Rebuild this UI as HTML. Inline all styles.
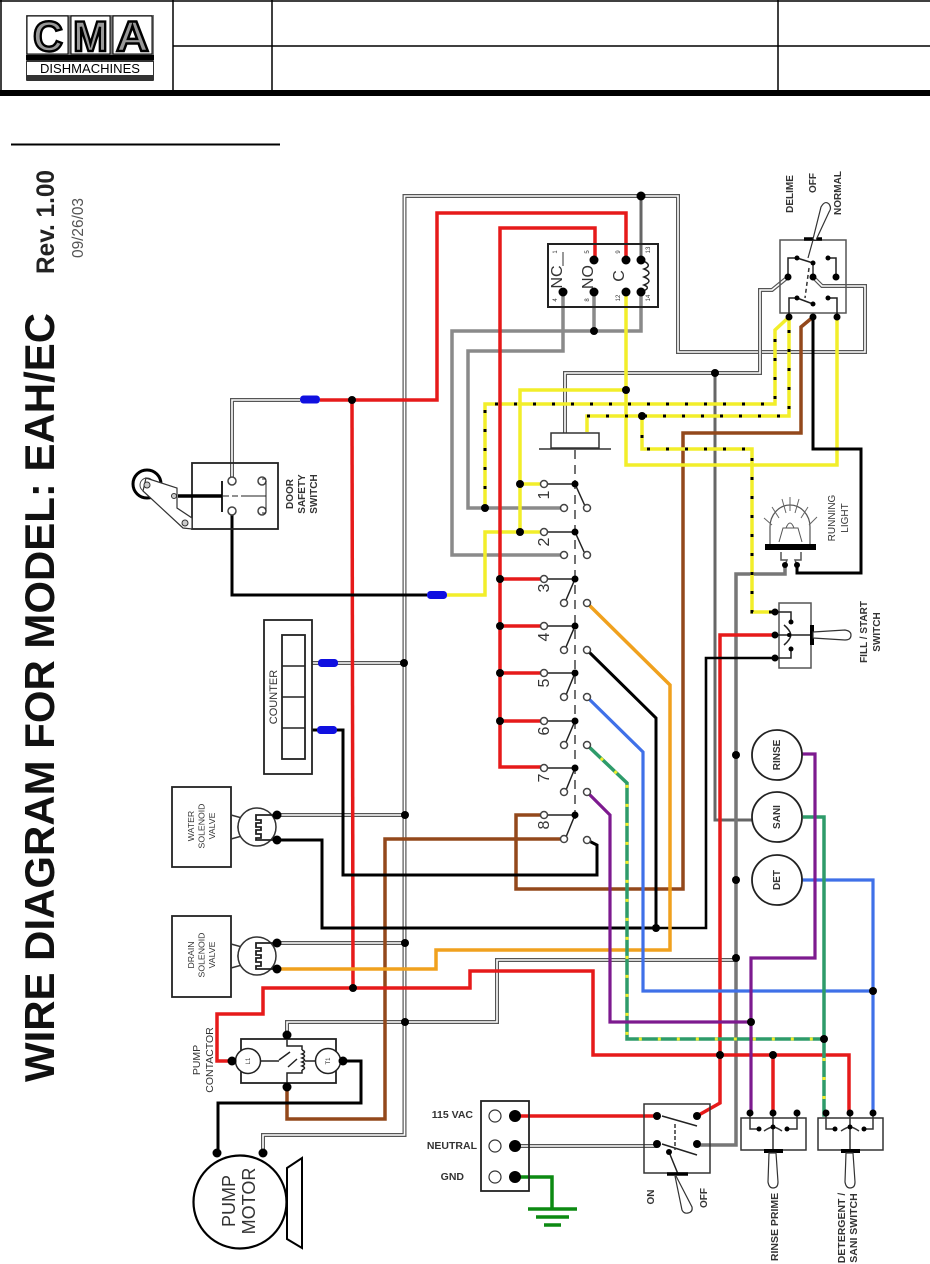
<!DOCTYPE html>
<html><head><meta charset="utf-8"><style>
html,body{margin:0;padding:0;background:#fff}
svg{display:block;filter:blur(0.35px)}
text{font-family:"Liberation Sans",sans-serif;fill:#333}
.w{fill:none;stroke-linejoin:miter}
.r{stroke:#e61a1a;stroke-width:3.5}
.k{stroke:#000;stroke-width:3}
.y{stroke:#f2ee2a;stroke-width:3.5}
.d{stroke:#000;stroke-width:3;stroke-dasharray:3 16}
.b{stroke:#93481b;stroke-width:3.5}
.g{stroke:#8a8a8a;stroke-width:3.5}
.o{stroke:#f0a11e;stroke-width:3.5}
.u{stroke:#3f70e8;stroke-width:3.2}
.p{stroke:#7d1a8f;stroke-width:3.2}
.n{stroke:#2e9b6a;stroke-width:3.5}
.ny{stroke:#f2ee2a;stroke-width:3;stroke-dasharray:3 16}
.a{stroke:#555;stroke-width:4}
.i{stroke:#fff;stroke-width:1.6}
.s{fill:none;stroke:#222;stroke-width:1.5}
.m{fill:#fff;stroke:#444;stroke-width:1.5}
</style></head><body>
<svg width="930" height="1264" viewBox="0 0 930 1264" xmlns="http://www.w3.org/2000/svg">
<rect width="930" height="1264" fill="#fff"/>
<!-- header -->
<g stroke="#000" fill="none">
<path d="M0 1H930M173 46H930M1 0V92M173 0V92M272 0V92M778 0V92" stroke-width="1.5"/>
<path d="M0 93H930" stroke-width="6"/>
<path d="M11 144.500H280" stroke-width="2"/>
</g>
<!-- logo -->
<g>
<rect x="26" y="15" width="128" height="45" fill="#777"/>
<rect x="27" y="16" width="41" height="38" fill="#fff" stroke="#000"/>
<rect x="71" y="16" width="39" height="38" fill="#fff" stroke="#000"/>
<rect x="113" y="16" width="39" height="38" fill="#fff" stroke="#000"/>
<g font-weight="bold" style="stroke:#000;stroke-width:2.400">
<text x="33" y="51" font-size="43" textLength="30" lengthAdjust="spacingAndGlyphs" style="fill:#999">C</text>
<text x="73" y="51" font-size="43" textLength="35" lengthAdjust="spacingAndGlyphs" style="fill:#999">M</text>
<text x="116" y="51" font-size="43" textLength="33" lengthAdjust="spacingAndGlyphs" style="fill:#999">A</text>
</g>
<rect x="26" y="55" width="128" height="5" fill="#000"/>
<rect x="26" y="60" width="128" height="21" fill="#333" rx="1"/>
<rect x="27" y="62" width="126" height="13" fill="#fff"/>
<text x="40" y="73" font-size="13" textLength="100" lengthAdjust="spacingAndGlyphs" style="fill:#000">DISHMACHINES</text>
</g>
<!-- title -->
<text transform="translate(54,1082) rotate(-90)" font-size="42" font-weight="bold" textLength="769" lengthAdjust="spacingAndGlyphs" style="fill:#111">WIRE DIAGRAM FOR MODEL: EAH/EC</text>
<text transform="translate(54,274) rotate(-90)" font-size="25" font-weight="bold" textLength="104" lengthAdjust="spacingAndGlyphs" style="fill:#222">Rev. 1.00</text>
<text transform="translate(83,258) rotate(-90)" font-size="16" textLength="60" lengthAdjust="spacingAndGlyphs" style="fill:#555">09/26/03</text>

<!-- neutral double wires -->
<path class="w a" id="n1" d="M263 1150V1135H404.500V196H678V352H865V286H822L813 277"/>
<path class="w i" d="M263 1150V1135H404.500V196H678V352H865V286H822L813 277"/>
<path class="w a" d="M565 433V373H760V290H772L788 277"/>
<path class="w i" d="M565 433V373H760V290H772L788 277"/>
<path class="w a" d="M287 1035V1022H497V960H736"/>
<path class="w i" d="M287 1035V1022H497V960H736"/>
<path class="w a" d="M277 815H404"/><path class="w i" d="M277 815H404"/>
<path class="w a" d="M277 943H404"/><path class="w i" d="M277 943H404"/>
<path class="w a" d="M312 663H404"/><path class="w i" d="M312 663H404"/>
<path class="w a" d="M232 480V400H300"/><path class="w i" d="M232 480V400H300"/>
<path class="w a" d="M515 1146H657"/><path class="w i" d="M515 1146H657"/>
<path class="w" stroke="#666" stroke-width="3" d="M715 373V820H752M641 196V260"/>
<path class="w" stroke="#777" stroke-width="3.500" d="M785 565V574H736V1145H697"/>
<!-- gray -->
<path class="w g" d="M563 292V351H468V508H563"/>
<path class="w g" d="M641 292V331H452V555H563M594 292V331"/>
<!-- brown -->
<path class="w b" d="M813 317L801 327V433H683V889H516V815H543"/>
<path class="w b" d="M563 839H385V1119H287V1087"/>
<!-- yellow -->
<path class="w y" d="M626 292V465H837V317"/>
<path class="w y" d="M626 390H520V532H485V595H447"/>
<path class="w y" d="M520 484H543M520 532H543"/>
<path class="w y" id="yd1" d="M485 508V404H775V330L789 317"/>
<path class="w y" d="M587 432V416H789V317"/>
<path class="w y" d="M642 416V449H752V612H775"/>
<path class="w d" d="M485 508V404H775V330"/>
<path class="w d" d="M587 416H789V317"/>
<path class="w d" d="M642 416V449H752V612H775"/>
<!-- red -->
<path class="w r" d="M320 400H437V213H626V260"/>
<path class="w r" d="M595 260V228H500V767H543M500 579H543M500 626H543M500 673H543M500 721H543"/>
<path class="w r" d="M352 400L353 988"/>
<path class="w r" d="M232 1061H217V1014H263V988H470V971H593V1055H849V1113"/>
<path class="w r" d="M773 1055V1113"/>
<path class="w r" d="M515 1116H657"/>
<path class="w r" d="M697 1116L720 1103V635H775"/>
<!-- black -->
<path class="w k" d="M813 317V449H861V573H797V565"/>
<path class="w k" d="M232 511V595H427"/>
<path class="w k" d="M312 730H343V875H597V845L587 840"/>
<path class="w k" d="M277 840H322V928H656V718L587 650"/>
<path class="w k" style="stroke-width:2.6" d="M775 658H706V928H656"/>
<path class="w k" d="M343 1061H361V1103H218V1150"/>
<!-- others -->
<path class="w o" d="M587 603L670 685V950H436V969H277"/>
<path class="w u" d="M587 697L643 752V991H873"/>
<path class="w u" d="M802 880H873V1113"/>
<path class="w n" d="M587 745L627 783V1039H824"/>
<path class="w n" d="M803 817H824V1115L826 1115"/>
<path class="w ny" d="M587 745L627 783V1039H824M824 1039V1115"/>
<path class="w p" d="M587 792L610 815V1022H751"/>
<path class="w p" d="M802 754H815V958H751V1113"/>
<path class="w" stroke="#0c8a12" stroke-width="3.500" d="M515 1177H552V1209"/>
<path stroke="#0c8a12" stroke-width="3.500" d="M528 1209H577M536 1217H569M544 1225H561"/>
<!-- blue connectors -->
<g fill="#1010e0">
<rect x="300" y="395.500" width="20" height="8" rx="3.500"/>
<rect x="427" y="591" width="20" height="8" rx="3.500"/>
<rect x="318" y="659" width="20" height="8" rx="3.500"/>
<rect x="317" y="726" width="20" height="8" rx="3.500"/>
</g>

<!-- relay -->
<rect x="548" y="244" width="110" height="63" fill="none" stroke="#222" stroke-width="2"/>
<text transform="translate(562,277) rotate(-90)" font-size="16" text-anchor="middle">NC</text>
<text transform="translate(593,277) rotate(-90)" font-size="16" text-anchor="middle">NO</text>
<text transform="translate(624,276) rotate(-90)" font-size="16" text-anchor="middle">C</text>
<path d="M563 266V252" stroke="#333" fill="none"/>
<g font-size="6" text-anchor="middle">
<text transform="translate(557,252) rotate(-90)">1</text>
<text transform="translate(589,252) rotate(-90)">5</text>
<text transform="translate(620,252) rotate(-90)">9</text>
<text transform="translate(650,250) rotate(-90)">13</text>
<text transform="translate(557,300) rotate(-90)">4</text>
<text transform="translate(589,300) rotate(-90)">8</text>
<text transform="translate(620,298) rotate(-90)">12</text>
<text transform="translate(650,298) rotate(-90)">14</text>
</g>
<path class="s" d="M641 260Q654 265 644 269Q654 273 644 277Q654 281 644 285Q652 288 641 292"/>

<!-- pushbutton + contacts -->
<rect x="551" y="433" width="48" height="15" fill="#fff" stroke="#333" stroke-width="1.500"/>
<path d="M539 449H611" stroke="#333" stroke-width="1.500"/>
<path d="M575 450V820" stroke="#444" stroke-width="1.500" stroke-dasharray="9 6"/>
<g class="s">
<path class="s" d="M544 484H575L585 506M544 532H575L585 554M544 579H575L566 600M544 626H575L566 647M544 673H575L566 695M544 721H575L566 742M544 768H575L566 790M544 815H575L566 837"/>
</g>
<g class="m">
<circle cx="544" cy="484" r="3.500"/><circle cx="544" cy="532" r="3.500"/><circle cx="544" cy="579" r="3.500"/><circle cx="544" cy="626" r="3.500"/><circle cx="544" cy="673" r="3.500"/><circle cx="544" cy="721" r="3.500"/><circle cx="544" cy="768" r="3.500"/><circle cx="544" cy="815" r="3.500"/>
<circle cx="564" cy="508" r="3.500"/><circle cx="587" cy="508" r="3.500"/><circle cx="564" cy="555" r="3.500"/><circle cx="587" cy="555" r="3.500"/>
<circle cx="564" cy="603" r="3.500"/><circle cx="587" cy="603" r="3.500"/><circle cx="564" cy="650" r="3.500"/><circle cx="587" cy="650" r="3.500"/>
<circle cx="564" cy="697" r="3.500"/><circle cx="587" cy="697" r="3.500"/><circle cx="564" cy="745" r="3.500"/><circle cx="587" cy="745" r="3.500"/>
<circle cx="564" cy="792" r="3.500"/><circle cx="587" cy="792" r="3.500"/><circle cx="564" cy="839" r="3.500"/><circle cx="587" cy="840" r="3.500"/>
</g>
<g font-size="16" text-anchor="middle">
<text transform="translate(549,495) rotate(-90)">1</text>
<text transform="translate(549,542) rotate(-90)">2</text>
<text transform="translate(549,588) rotate(-90)">3</text>
<text transform="translate(549,637) rotate(-90)">4</text>
<text transform="translate(549,683) rotate(-90)">5</text>
<text transform="translate(549,731) rotate(-90)">6</text>
<text transform="translate(549,778) rotate(-90)">7</text>
<text transform="translate(549,825) rotate(-90)">8</text>
</g>

<!-- delime switch -->
<rect x="780" y="240" width="66" height="73" fill="none" stroke="#555" stroke-width="1.500"/>
<path d="M804 239H822" stroke="#000" stroke-width="3.500"/>
<path d="M808 258L813 240M813 239L821 207Q825 200 829 204Q832 208 829 212L816 240" fill="#fff" stroke="#333" stroke-width="1.200"/>
<path class="s" d="M788 277V258H797M836 277V258H828M789 317V298H797M837 317V298H828M797 258L813 263M797 298L813 304"/>
<path d="M813 263L813 277V263M809 268L805 298" stroke="#333" stroke-width="1.500" stroke-dasharray="4 3"/>

<!-- running light -->
<path d="M770 545V527A20 22 0 0 1 810 527V545" fill="#fff" stroke="#555" stroke-width="1.200"/>
<path d="M765 547H816" stroke="#000" stroke-width="6"/>
<path d="M781 552V560H787L785 565M801 552V560H795L797 565" fill="none" stroke="#555" stroke-width="1.500"/>
<path d="M779 542L783 528H798L802 542M786 528Q790 518 794 528" fill="none" stroke="#555"/>
<path d="M764 518L772 525M772 507L779 518M782 499L786 513M790 497V511M799 499L795 513M808 507L801 518M817 517L809 525" stroke="#666" fill="none"/>
<g font-size="10" text-anchor="middle">
<text transform="translate(835,518) rotate(-90)">RUNNING</text>
<text transform="translate(848,518) rotate(-90)">LIGHT</text>
</g>

<!-- fill/start -->
<rect x="779" y="603" width="32" height="65" fill="none" stroke="#555" stroke-width="1.500"/>
<path class="s" d="M775 612H791V622M775 635H811M775 658H791V649M784 625Q790 630 791 635M784 645Q790 640 791 635"/>
<path d="M812 625V645" stroke="#000" stroke-width="4"/>
<path d="M813 632L845 630Q851 631 851 635Q851 640 845 640L813 638Z" fill="#fff" stroke="#333" stroke-width="1.200"/>
<g font-size="10" text-anchor="middle" font-weight="bold">
<text transform="translate(867,632) rotate(-90)">FILL / START</text>
<text transform="translate(880,632) rotate(-90)">SWITCH</text>
</g>

<!-- timers -->
<g fill="#fff" stroke="#222" stroke-width="1.800">
<circle cx="777" cy="755" r="25"/><circle cx="777" cy="817" r="25"/><circle cx="777" cy="880" r="25"/>
</g>
<g font-size="10" text-anchor="middle" font-weight="bold">
<text transform="translate(780,755) rotate(-90)">RINSE</text>
<text transform="translate(780,817) rotate(-90)">SANI</text>
<text transform="translate(780,880) rotate(-90)">DET</text>
</g>
<!-- labels top switch -->
<g font-size="10" font-weight="bold" text-anchor="middle">
<text transform="translate(793,194) rotate(-90)">DELIME</text>
<text transform="translate(816,183) rotate(-90)">OFF</text>
<text transform="translate(841,193) rotate(-90)">NORMAL</text>
<text transform="translate(293,494) rotate(-90)">DOOR</text>
<text transform="translate(305,494) rotate(-90)">SAFETY</text>
<text transform="translate(317,494) rotate(-90)">SWITCH</text>
</g>

<!-- door switch -->
<rect x="192" y="463" width="86" height="66" fill="none" stroke="#222" stroke-width="1.800"/>
<g class="m"><circle cx="232" cy="481" r="4"/><circle cx="232" cy="511" r="4"/><circle cx="262" cy="481" r="4"/><circle cx="262" cy="511" r="4"/></g>
<path d="M222 481V512" stroke="#222" stroke-width="2"/>
<path d="M178 496H222" stroke="#000" stroke-width="3.500"/>
<path d="M223 496H245" stroke="#222" stroke-dasharray="6 3"/>
<path d="M245 496H266M266 481V511M262 479H266M262 513H266" stroke="#222" fill="none"/>
<circle cx="147" cy="484" r="14" fill="#fff" stroke="#000" stroke-width="3"/>
<circle cx="147" cy="485" r="7" fill="#fff" stroke="#444"/>
<path d="M146 478L177 488V508L192 518V529L183 528L143 491Z" fill="#fff" stroke="#333" stroke-width="1.200"/>
<circle cx="147" cy="485" r="3" fill="#ccc" stroke="#333"/>
<circle cx="174" cy="496" r="2.500" fill="#ccc" stroke="#333"/>
<circle cx="185" cy="523" r="3" fill="#ccc" stroke="#333"/>

<!-- counter -->
<rect x="264" y="620" width="48" height="154" fill="none" stroke="#222" stroke-width="1.800"/>
<rect x="282" y="635" width="23" height="124" fill="none" stroke="#222" stroke-width="1.800"/>
<path d="M282 666H305M282 697H305M282 728H305" stroke="#222" stroke-width="1.500"/>
<text transform="translate(277,697) rotate(-90)" font-size="11" text-anchor="middle">COUNTER</text>

<!-- solenoids -->
<rect x="172" y="787" width="59" height="80" fill="none" stroke="#222" stroke-width="1.800"/>
<rect x="172" y="916" width="59" height="81" fill="none" stroke="#222" stroke-width="1.800"/>
<g font-size="8.700" text-anchor="middle">
<text transform="translate(194,826) rotate(-90)">WATER</text>
<text transform="translate(204.500,826) rotate(-90)">SOLENOID</text>
<text transform="translate(215,826) rotate(-90)">VALVE</text>
<text transform="translate(194,955) rotate(-90)">DRAIN</text>
<text transform="translate(204.500,955) rotate(-90)">SOLENOID</text>
<text transform="translate(215,955) rotate(-90)">VALVE</text>
</g>
<g fill="#fff" stroke="#333" stroke-width="1.500">
<path d="M231 815L242 818Q234 827 242 836L231 839" fill="none"/>
<circle cx="257" cy="827" r="19"/>
<path d="M231 944L242 947Q234 956 242 965L231 968" fill="none"/>
<circle cx="257" cy="956" r="19"/>
</g>
<path class="w" stroke="#222" stroke-width="1.800" d="M277 815H256V820H261V823H256V827H261V830H256V834H261V838H256V840H277"/>
<path class="w" stroke="#222" stroke-width="1.800" d="M277 943H256V948H261V951H256V955H261V958H256V962H261V966H256V969H277"/>

<!-- contactor -->
<rect x="241" y="1039" width="95" height="44" fill="none" stroke="#222" stroke-width="1.800"/>
<path class="s" d="M261 1061H279M279 1060L290 1052M288 1067L297 1059M305 1061H315M287 1040V1046H302V1050M302 1070V1073H287V1083"/>
<path class="s" d="M302 1050Q307 1052 302 1054Q307 1056 302 1058Q307 1060 302 1062Q307 1064 302 1066Q307 1068 302 1070"/>
<g fill="#fff" stroke="#222" stroke-width="1.500"><circle cx="248" cy="1061" r="12.500"/><circle cx="328" cy="1061" r="12.500"/></g>
<text transform="translate(250,1061) rotate(-90)" font-size="6" text-anchor="middle">L1</text>
<text transform="translate(330,1061) rotate(-90)" font-size="6" text-anchor="middle">T1</text>
<g font-size="10.500" text-anchor="middle">
<text transform="translate(200,1060) rotate(-90)">PUMP</text>
<text transform="translate(213,1060) rotate(-90)">CONTACTOR</text>
</g>

<!-- pump motor -->
<circle cx="240" cy="1202" r="46.500" fill="#fff" stroke="#000" stroke-width="2.200"/>
<path d="M287 1168L302 1158V1248L287 1239Z" fill="#fff" stroke="#000" stroke-width="2"/>
<g font-size="18" text-anchor="middle">
<text transform="translate(235,1201) rotate(-90)">PUMP</text>
<text transform="translate(255,1201) rotate(-90)">MOTOR</text>
</g>

<!-- power -->
<rect x="481" y="1101" width="48" height="90" fill="none" stroke="#222" stroke-width="1.800"/>
<g fill="#fff" stroke="#333" stroke-width="1.200"><circle cx="495" cy="1116" r="6"/><circle cx="495" cy="1146" r="6"/><circle cx="495" cy="1177" r="6"/></g>
<g font-size="10.500" font-weight="bold" text-anchor="end">
<text x="473" y="1118">115 VAC</text>
<text x="477" y="1149">NEUTRAL</text>
<text x="464" y="1180">GND</text>
</g>

<!-- on off switch -->
<rect x="644" y="1104" width="66" height="69" fill="none" stroke="#333" stroke-width="1.500"/>
<path class="s" d="M662 1116L697 1126M662 1144L697 1155M669 1152L678 1174"/>
<path d="M675 1124V1150" stroke="#333" stroke-width="1.500" stroke-dasharray="4 2"/>
<path d="M667 1174H688" stroke="#000" stroke-width="3.500"/>
<path d="M676 1176L692 1207Q693 1212 688 1213Q684 1214 682 1210L675 1176" fill="#fff" stroke="#333" stroke-width="1.200"/>
<g font-size="10" font-weight="bold" text-anchor="middle">
<text transform="translate(654,1197) rotate(-90)">ON</text>
<text transform="translate(707,1198) rotate(-90)">OFF</text>
</g>
<g font-size="10.500" font-weight="bold" text-anchor="middle">
<text transform="translate(778,1227) rotate(-90)">RINSE PRIME</text>
<text transform="translate(845,1228) rotate(-90)">DETERGENT /</text>
<text transform="translate(857,1228) rotate(-90)">SANI SWITCH</text>
</g>
<!-- rinse / det switches -->
<g fill="none" stroke="#333" stroke-width="1.500">
<rect x="741" y="1118" width="65" height="32"/>
<rect x="818" y="1118" width="65" height="32"/>
<path d="M750 1113V1129H759M797 1113V1129H787M773 1113V1150M764 1131Q770 1127 773 1127Q776 1127 782 1131"/>
<path d="M826 1113V1129H835M873 1113V1129H864M850 1113V1150M841 1131Q847 1127 850 1127Q853 1127 859 1131"/>
</g>
<path d="M764 1151H783M841 1151H860" stroke="#000" stroke-width="4"/>
<path d="M769 1153L768 1182Q769 1188 773 1188Q778 1188 778 1182L776 1153Z" fill="#fff" stroke="#333" stroke-width="1.200"/>
<path d="M846 1153L845 1182Q846 1188 850 1188Q855 1188 855 1182L853 1153Z" fill="#fff" stroke="#333" stroke-width="1.200"/>

<!-- nodes -->
<g fill="#000">
<circle cx="641" cy="196" r="4.500"/>
<circle cx="594" cy="260" r="4.500"/><circle cx="626" cy="260" r="4.500"/><circle cx="641" cy="260" r="4.500"/>
<circle cx="563" cy="292" r="4.500"/><circle cx="594" cy="292" r="4.500"/><circle cx="626" cy="292" r="4.500"/><circle cx="641" cy="292" r="4.500"/>
<circle cx="594" cy="331" r="4"/>
<circle cx="715" cy="373" r="4"/><circle cx="626" cy="390" r="4"/><circle cx="642" cy="416" r="4"/>
<circle cx="520" cy="484" r="4"/><circle cx="520" cy="532" r="4"/><circle cx="485" cy="508" r="4"/>
<circle cx="500" cy="579" r="4"/><circle cx="500" cy="626" r="4"/><circle cx="500" cy="673" r="4"/><circle cx="500" cy="721" r="4"/>
<circle cx="352" cy="400" r="4"/><circle cx="353" cy="988" r="4"/>
<circle cx="404" cy="663" r="4"/><circle cx="405" cy="815" r="4"/><circle cx="405" cy="943" r="4"/><circle cx="405" cy="1022" r="4"/>
<circle cx="656" cy="928" r="4"/><circle cx="736" cy="755" r="4"/><circle cx="736" cy="880" r="4"/><circle cx="736" cy="958" r="4"/>
<circle cx="873" cy="991" r="4"/><circle cx="751" cy="1022" r="4"/><circle cx="824" cy="1039" r="4"/><circle cx="720" cy="1055" r="4"/><circle cx="773" cy="1055" r="4"/>
<circle cx="788" cy="277" r="3.500"/><circle cx="813" cy="277" r="3.500"/><circle cx="836" cy="277" r="3.500"/>
<circle cx="789" cy="317" r="3.500"/><circle cx="813" cy="317" r="3.500"/><circle cx="837" cy="317" r="3.500"/>
<circle cx="797" cy="258" r="2.500"/><circle cx="828" cy="258" r="2.500"/><circle cx="813" cy="263" r="2.500"/>
<circle cx="797" cy="298" r="2.500"/><circle cx="828" cy="298" r="2.500"/><circle cx="813" cy="304" r="2.500"/>
<circle cx="785" cy="565" r="3"/><circle cx="797" cy="565" r="3"/>
<circle cx="775" cy="612" r="3.500"/><circle cx="775" cy="635" r="3.500"/><circle cx="775" cy="658" r="3.500"/>
<circle cx="791" cy="622" r="2.500"/><circle cx="791" cy="649" r="2.500"/><circle cx="789" cy="635" r="2"/>
<circle cx="575" cy="484" r="3.500"/><circle cx="575" cy="532" r="3.500"/><circle cx="575" cy="579" r="3.500"/><circle cx="575" cy="626" r="3.500"/><circle cx="575" cy="673" r="3.500"/><circle cx="575" cy="721" r="3.500"/><circle cx="575" cy="768" r="3.500"/><circle cx="575" cy="815" r="3.500"/>
<circle cx="277" cy="815" r="4.500"/><circle cx="277" cy="840" r="4.500"/><circle cx="277" cy="943" r="4.500"/><circle cx="277" cy="969" r="4.500"/>
<circle cx="232" cy="1061" r="4.500"/><circle cx="343" cy="1061" r="4.500"/><circle cx="287" cy="1035" r="4.500"/><circle cx="287" cy="1087" r="4.500"/>
<circle cx="217" cy="1153" r="4.500"/><circle cx="263" cy="1153" r="4.500"/>
<circle cx="515" cy="1116" r="6"/><circle cx="515" cy="1146" r="6"/><circle cx="515" cy="1177" r="6"/>
<circle cx="657" cy="1116" r="4"/><circle cx="697" cy="1116" r="4"/><circle cx="657" cy="1144" r="4"/><circle cx="697" cy="1144" r="4"/><circle cx="669" cy="1152" r="3"/>
<circle cx="750" cy="1113" r="3.500"/><circle cx="773" cy="1113" r="3.500"/><circle cx="797" cy="1113" r="3.500"/>
<circle cx="826" cy="1113" r="3.500"/><circle cx="850" cy="1113" r="3.500"/><circle cx="873" cy="1113" r="3.500"/>
<circle cx="759" cy="1129" r="2.500"/><circle cx="787" cy="1129" r="2.500"/><circle cx="773" cy="1127" r="2.500"/>
<circle cx="835" cy="1129" r="2.500"/><circle cx="864" cy="1129" r="2.500"/><circle cx="850" cy="1127" r="2.500"/>
</g>
</svg>
</body></html>
